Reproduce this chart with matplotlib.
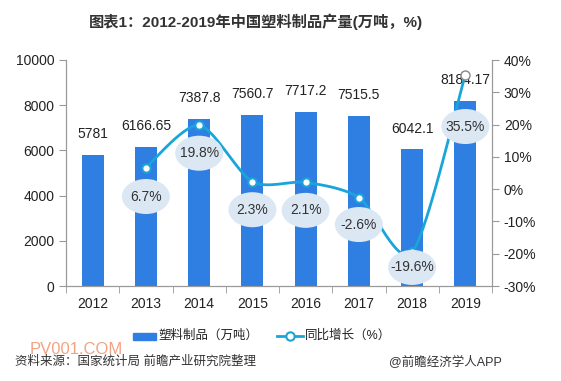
import numpy as np
import matplotlib
matplotlib.use('Agg')
from matplotlib import pyplot as plt
from matplotlib.patches import Ellipse

plt.rcParams['font.family'] = ['Liberation Sans', 'Noto Sans CJK SC', 'DejaVu Sans']

years = ['2012', '2013', '2014', '2015', '2016', '2017', '2018', '2019']
output = [5781, 6166.65, 7387.8, 7560.7, 7717.2, 7515.5, 6042.1, 8184.17]
output_labels = ['5781', '6166.65', '7387.8', '7560.7', '7717.2', '7515.5', '6042.1', '8184.17']
growth = [None, 6.7, 19.8, 2.3, 2.1, -2.6, -19.6, 35.5]
# pixel offsets of the ellipse labels below each point
label_drop = [0, 29, 28, 28, 28, 27, 15, 52]

bar_color = '#2f7fe3'
line_color = '#1aa5da'
grid_grey = '#999999'
ell_color = '#dbe8f4'


def smooth(xs, ys, n=30):
    # catmull-rom curve through the points, just for the drawn line
    xs = np.asarray(xs, float)
    ys = np.asarray(ys, float)
    px = np.concatenate([[xs[0]], xs, [xs[-1]]])
    py = np.concatenate([[ys[0]], ys, [ys[-1]]])
    ox, oy = [], []
    k = 0.8
    for i in range(1, len(px) - 2):
        t = np.linspace(0, 1, n)
        t2, t3 = t * t, t * t * t
        for p, out in ((px, ox), (py, oy)):
            p0, p1, p2, p3 = p[i - 1], p[i], p[i + 1], p[i + 2]
            m1 = (p2 - p0) * 0.5 * k
            m2 = (p3 - p1) * 0.5 * k
            out.extend((2 * t3 - 3 * t2 + 1) * p1 + (t3 - 2 * t2 + t) * m1
                       + (-2 * t3 + 3 * t2) * p2 + (t3 - t2) * m2)
    return np.array(ox), np.array(oy)


fig = plt.figure(figsize=(5.61, 3.81), dpi=100)
ax = fig.add_axes([66 / 561, 1 - 286 / 381, 426 / 561, 226 / 381])
ax2 = ax.twinx()

x = np.arange(len(years))
ax.bar(x, output, width=0.41, color=bar_color, zorder=2)
for xi, v, s in zip(x, output, output_labels):
    ax.annotate(s, (xi, v), xytext=(0, 10), textcoords='offset points',
                ha='center', va='bottom', fontsize=10, color='#222222')

ax.set_xlim(-0.5, 7.5)
ax.set_ylim(0, 10000)
ax.set_yticks(range(0, 10001, 2000))
ax.set_xticks(x)
ax.set_xticklabels(years)
ax.set_xticks(np.arange(-0.5, 8, 1), minor=True)
ax.tick_params(axis='x', which='major', length=0, pad=8, labelsize=10, colors='#222222')
ax.tick_params(axis='x', which='minor', length=5, color=grid_grey)
ax.tick_params(axis='y', length=5, color=grid_grey, labelsize=10, labelcolor='#222222')

ax2.set_ylim(-30, 40)
ax2.set_yticks(range(-30, 41, 10))
ax2.set_yticklabels([f'{v}%' for v in range(-30, 41, 10)])
ax2.tick_params(axis='y', length=5, color=grid_grey, labelsize=10, labelcolor='#222222')

for a in (ax, ax2):
    a.spines['top'].set_visible(False)
    for s in ('left', 'right', 'bottom'):
        a.spines[s].set_color(grid_grey)

gx = x[1:]
gy = [g for g in growth if g is not None]
sx, sy = smooth(gx, gy)
ax2.plot(sx, sy, color=line_color, lw=2, zorder=3)
ax2.plot(gx[:-1], gy[:-1], 'o', ms=6, mfc='white', mec=line_color, mew=1.5, zorder=4)
ax2.plot(gx[-1:], gy[-1:], 'o', ms=6.5, mfc='white', mec='#888888', mew=1, zorder=4)

# ellipse labels: 48x35 px, converted to data units
px_x = 426 / 8
px_y = 226 / 70
for xi, g, d in zip(x[1:], gy, label_drop[1:]):
    cy = g - d / px_y
    ax2.add_patch(Ellipse((xi, cy), 48 / px_x, 35 / px_y, fc=ell_color, ec='none', zorder=5))
    ax2.text(xi, cy, f'{g}%', ha='center', va='center', fontsize=10, color='#333333', zorder=6)

# legend drawn by hand
fig.patches.append(plt.Rectangle((133 / 561, 1 - 340 / 381), 23 / 561, 7 / 381,
                                 transform=fig.transFigure, color=bar_color))
fig.text(158 / 561, 1 - 336 / 381, '塑料制品（万吨）', fontsize=9, va='center', color='#222222')
fig.lines.append(plt.Line2D([277 / 561, 303 / 561], [1 - 336 / 381] * 2, transform=fig.transFigure,
                            color=line_color, lw=2))
fig.lines.append(plt.Line2D([290 / 561], [1 - 336 / 381], transform=fig.transFigure, marker='o',
                            ms=6, mfc='white', mec=line_color, mew=1.5))
fig.text(305 / 561, 1 - 336 / 381, '同比增长（%）', fontsize=9, va='center', color='#222222')

fig.text(256 / 561, 1 - 22 / 381, '图表1：2012-2019年中国塑料制品产量(万吨，%)', ha='center', va='center',
         fontsize=11, fontweight='bold', color='#333333')
fig.text(30 / 561, 1 - 350 / 381, 'PV001.COM', fontsize=12, color='#f0845a', alpha=0.75, va='center')
fig.text(15 / 561, 1 - 362 / 381, '资料来源：国家统计局 前瞻产业研究院整理', fontsize=9, va='center', color='#333333')
fig.text(502 / 561, 1 - 362 / 381, '@前瞻经济学人APP', fontsize=9, va='center', ha='right', color='#333333')

fig.savefig('out.png', dpi=100)
